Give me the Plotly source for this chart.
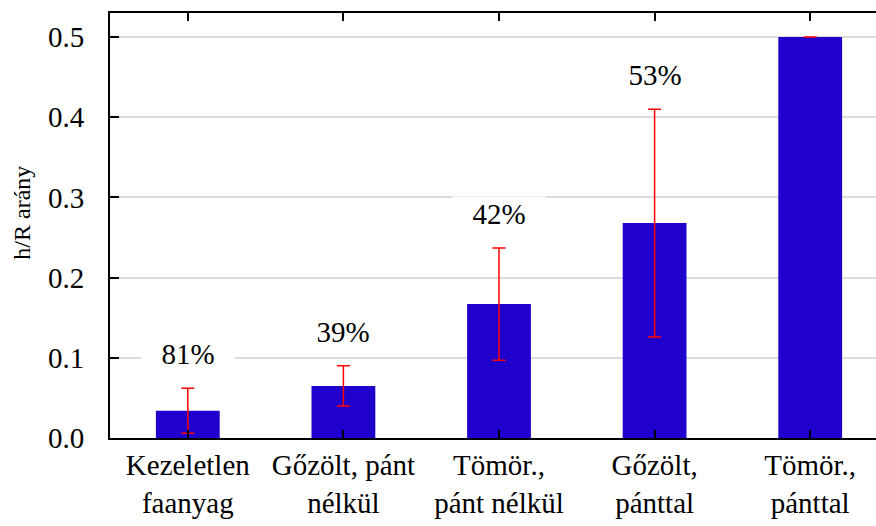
import plotly.graph_objects as go

categories = ["Kezeletlen<br>faanyag", "Gőzölt, pánt<br>nélkül", "Tömör.,<br>pánt nélkül",
              "Gőzölt,<br>pánttal", "Tömör.,<br>pánttal"]
values = [0.034, 0.065, 0.167, 0.268, 0.500]
errors = [0.028, 0.025, 0.070, 0.142, 0.0]
pct_labels = ["81%", "39%", "42%", "53%", ""]
y_ticks = [0.0, 0.1, 0.2, 0.3, 0.4, 0.5]
y_ticktext = ["0.0", "0.1", "0.2", "0.3", "0.4", "0.5"]

FONT = "Liberation Serif"

fig = go.Figure()
fig.add_trace(go.Bar(
    x=list(range(len(categories))), y=values, width=0.41,
    marker=dict(color="#2000CC", line=dict(width=0)),
    error_y=dict(type="data", array=errors, visible=True, color="#FF0000",
                 thickness=1.5, width=6.5),
))

for i, (v, e, t) in enumerate(zip(values, errors, pct_labels)):
    if not t:
        continue
    fig.add_annotation(x=i, y=v + e, yshift=34, text=t, showarrow=False,
                       xanchor="center", yanchor="middle", bgcolor="white",
                       width=90, font=dict(family=FONT, size=29, color="black"))

fig.add_annotation(xref="paper", yref="paper", x=-0.115, y=0.53, text="h/R arány",
                   textangle=-90, showarrow=False, xanchor="center", yanchor="middle",
                   font=dict(family=FONT, size=24, color="black"))

fig.update_layout(
    width=876, height=526,
    margin=dict(l=110, r=0, t=13, b=88),
    plot_bgcolor="white", paper_bgcolor="white",
    showlegend=False,
    font=dict(family=FONT, size=29, color="black"),
    xaxis=dict(
        range=[-0.5, -0.5 + 766 / 155.6],
        tickmode="array", tickvals=list(range(len(categories))), ticktext=categories,
        tickson="boundaries", ticks="inside", ticklen=8, tickwidth=1.5, tickcolor="black",
        showline=True, linecolor="black", linewidth=2, mirror="ticks",
        showgrid=False, zeroline=False,
        tickfont=dict(family=FONT, size=29, color="black"),
    ),
    yaxis=dict(
        range=[0, 0.53],
        tickmode="array", tickvals=y_ticks, ticktext=y_ticktext,
        ticks="inside", ticklen=9, tickwidth=2, tickcolor="black",
        showline=True, linecolor="black", linewidth=2, mirror=False,
        showgrid=True, gridcolor="#DCDCDC", gridwidth=1.5,
        zeroline=False,
        tickfont=dict(family=FONT, size=29, color="black"),
        ticklabelstandoff=18,
    ),
)

fig.write_html("out.html")
